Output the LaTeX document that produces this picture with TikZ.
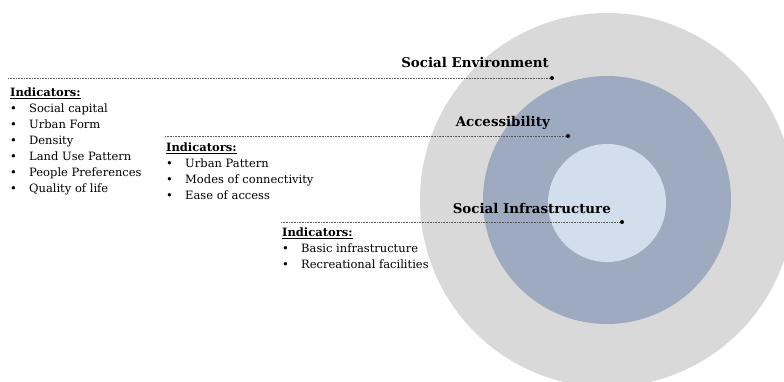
\documentclass[tikz,border=0pt]{standalone}
\usepackage{fontspec}
\setmainfont{DejaVu Serif}
\usetikzlibrary{positioning}

\definecolor{ringouter}{HTML}{D9D9D9}
\definecolor{ringmid}{HTML}{9DAAC0}
\definecolor{ringinner}{HTML}{D2DEEC}

\newcommand{\bul}[1]{\makebox[19pt][l]{\textbullet}#1}

\begin{document}
\begin{tikzpicture}[x=1pt, y=-1pt,
  ring/.style={circle, inner sep=0pt, draw=none},
  title/.style={font=\bfseries\fontsize{13.4}{15}\selectfont, anchor=base east, inner sep=0pt},
  lead/.style={draw=black!65, densely dotted, line width=0.6pt},
  tip/.style={circle, fill=black, inner sep=0pt, minimum size=4pt},
  list/.style={anchor=north west, align=left, inner sep=0pt, font=\fontsize{11.5}{16}\selectfont}
]
  \clip (0,0) rectangle (784,382);

  % the three rings
  \node[ring, fill=ringouter, minimum size=374pt] (outer) at (607,200) {};
  \node[ring, fill=ringmid, minimum size=248pt] (middle) at (607,200) {};
  \node[ring, fill=ringinner, minimum size=118pt] (inner) at (607,203) {};

  % leader lines with their end dots
  \coordinate (envstart) at (8,78);
  \coordinate (accstart) at (165,136);
  \coordinate (infstart) at (281,222);
  \node[tip] (envtip) at (552,78) {};
  \node[tip] (acctip) at (568,136) {};
  \node[tip] (inftip) at (622,222) {};
  \draw[lead] (envstart) -- (envtip);
  \draw[lead] (accstart) -- (acctip);
  \draw[lead] (infstart) -- (inftip);

  \node[title] (envtitle) at (549,68) {Social Environment};
  \node[title] (acctitle) at (550,127) {Accessibility};
  \node[title] (inftitle) at (611,213) {Social Infrastructure};

  % indicator lists
  \node[list, below right=10pt and 2pt of envstart] (envlist) {\underline{\textbf{Indicators:}}\\
    \bul{Social capital}\\
    \bul{Urban Form}\\
    \bul{Density}\\
    \bul{Land Use Pattern}\\
    \bul{People Preferences}\\
    \bul{Quality of life}};
  \node[list, below right=7pt and 1pt of accstart] (acclist) {\underline{\textbf{Indicators:}}\\
    \bul{Urban Pattern}\\
    \bul{Modes of connectivity}\\
    \bul{Ease of access}};
  \node[list, below right=6pt and 1pt of infstart] (inflist) {\underline{\textbf{Indicators:}}\\
    \bul{Basic infrastructure}\\
    \bul{Recreational facilities}};
\end{tikzpicture}
\end{document}
